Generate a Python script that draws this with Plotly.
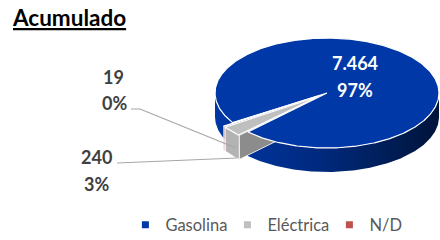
import numpy as np
import plotly.graph_objects as go

# ---- data ----
categories = ["Gasolina", "Eléctrica", "N/D"]
values = [7464, 240, 19]
slice_colors = ["#0038a8", "#bfbfbf", "#c0504d"]

total = sum(values)
fractions = [v / total for v in values]
pct_labels = [f"{round(f * 100):.0f}%" for f in fractions]
value_labels = [f"{v:,}".replace(",", ".") for v in values]

# ---- 3D pie geometry (axes map 1:1 to pixels) ----
CX, CY, RX, RY, DEPTH = 327, 93, 112, 55, 24
START = 237.0           # first slice angle, degrees clockwise from 12 o'clock
PULL = [0.0, 0.1, 0.1]  # explosion per slice
side_dark = {"Gasolina": "#002a82", "Eléctrica": "#8c8c8c", "N/D": "#8b2f2c"}
side_light = {"Eléctrica": "#b3b3b3", "N/D": "#a33c39"}

spans = []
a = START
for f in fractions:
    b = a + f * 360.0
    spans.append((a, b))
    a = b


def rim(t, ox, oy, dy=0.0):
    t = np.radians(np.asarray(t, dtype=float))
    return CX + ox + RX * np.sin(t), CY + oy + dy - RY * np.cos(t)


def arc_pts(t0, t1, ox, oy, dy=0.0):
    n = max(2, int(abs(t1 - t0) * 2) + 2)
    return rim(np.linspace(t0, t1, n), ox, oy, dy)


def offset(i):
    a, b = spans[i]
    m = np.radians((a + b) / 2)
    return PULL[i] * RX * np.sin(m), -PULL[i] * RY * np.cos(m)


def front_parts(a, b):
    parts = []
    for k in range(0, 3):
        lo, hi = 90 + 360 * k, 270 + 360 * k
        p, q = max(a, lo), min(b, hi)
        if q > p:
            parts.append((p, q))
    return parts


fig = go.Figure()


def poly(xs, ys, fill, line_color="rgba(0,0,0,0)", lw=0, grad=None):
    kw = dict(x=xs, y=ys, mode="lines", fill="toself", fillcolor=fill,
              line=dict(color=line_color, width=lw), hoverinfo="skip",
              showlegend=False)
    if grad is not None:
        kw["fillgradient"] = grad
    fig.add_trace(go.Scatter(**kw))


def radial_face(i):
    name = categories[i]
    a, _ = spans[i]
    prev = (i - 1) % len(spans)
    if np.sin(np.radians(a)) < 0 and PULL[prev] != PULL[i]:
        ox, oy = offset(i)
        cx, cy = CX + ox, CY + oy
        x1, y1 = rim(a, ox, oy)
        grey = name != "Gasolina"
        poly([cx, x1, x1, cx, cx], [cy, y1, y1 + DEPTH, cy + DEPTH, cy],
             side_dark[name], "white" if grey else "rgba(0,0,0,0)",
             0.8 if grey else 0)


def outer_side(i):
    name = categories[i]
    a, b = spans[i]
    ox, oy = offset(i)
    xs, ys = [], []
    for p, q in front_parts(a, b):
        tx, ty = arc_pts(p, q, ox, oy)
        bx, by = arc_pts(q, p, ox, oy, DEPTH)
        xs += list(tx) + list(bx) + [tx[0], None]
        ys += list(ty) + list(by) + [ty[0], None]
    if not xs:
        return
    if name == "Gasolina":
        poly(xs, ys, "#002a82", grad=dict(
            type="horizontal",
            colorscale=[[0, "#0037a3"], [0.45, "#002a80"], [1, "#00143a"]]))
    else:
        poly(xs, ys, side_light[name], "white", 0.8)


def top_face(i):
    a, b = spans[i]
    ox, oy = offset(i)
    cx, cy = CX + ox, CY + oy
    tx, ty = arc_pts(a, b, ox, oy)
    poly([cx] + list(tx) + [cx], [cy] + list(ty) + [cy],
         slice_colors[i], "white", 1.2)


base = [i for i in range(len(values)) if PULL[i] == 0]
pulled = [i for i in range(len(values)) if PULL[i] > 0]
for i in base:
    radial_face(i)
    outer_side(i)
for i in pulled:
    radial_face(i)
for i in base:
    top_face(i)
for i in pulled:
    outer_side(i)
for i in pulled:
    top_face(i)

# legend entries
for name, col in zip(categories, slice_colors):
    fig.add_trace(go.Scatter(x=[None], y=[None], mode="markers", name=name,
                             marker=dict(symbol="square", size=7, color=col)))

FONT = "Lato"
lab_font = dict(family=FONT, size=18, color="#404040")
annots = [
    dict(x=10, y=17, text="<b><u>Acumulado</u></b>", xanchor="left",
         font=dict(family=FONT, size=22.5, color="#000000")),
    dict(x=355, y=63, text=f"<b>{value_labels[0]}</b>",
         font=dict(family=FONT, size=18, color="white")),
    dict(x=355, y=90, text=f"<b>{pct_labels[0]}</b>",
         font=dict(family=FONT, size=18, color="white")),
    dict(x=96, y=157, text=f"<b>{value_labels[1]}</b>", font=lab_font),
    dict(x=96, y=184, text=f"<b>{pct_labels[1]}</b>", font=lab_font),
    dict(x=113, y=77, text=f"<b>{value_labels[2]}</b>", font=lab_font),
    dict(x=114, y=103, text=f"<b>{pct_labels[2]}</b>", font=lab_font),
]
for an in annots:
    an.update(xref="x", yref="y", showarrow=False, yanchor="middle")
    an.setdefault("xanchor", "center")

shapes = [
    dict(type="path", path="M 131 109 L 140 109 L 236 148", xref="x", yref="y",
         line=dict(color="#a6a6a6", width=1.2)),
    dict(type="path", path="M 117 163 L 237 158", xref="x", yref="y",
         line=dict(color="#a6a6a6", width=1.2)),
]

fig.update_layout(
    width=440, height=240, autosize=False,
    margin=dict(l=0, r=0, t=0, b=0, autoexpand=False),
    paper_bgcolor="white", plot_bgcolor="white",
    xaxis=dict(range=[0, 440], visible=False, fixedrange=True),
    yaxis=dict(range=[240, 0], visible=False, fixedrange=True),
    annotations=annots, shapes=shapes,
    showlegend=True,
    legend=dict(orientation="h", x=0.285, xanchor="left", y=0.0625,
                yanchor="middle", itemwidth=30, entrywidth=57,
                font=dict(family=FONT, size=16.5, color="#595959"),
                bgcolor="rgba(0,0,0,0)"),
)

fig.write_html("out.html",
               config={"displayModeBar": False, "responsive": False},
               post_script="document.body.style.margin='0';"
                           "document.body.style.overflow='hidden';")
